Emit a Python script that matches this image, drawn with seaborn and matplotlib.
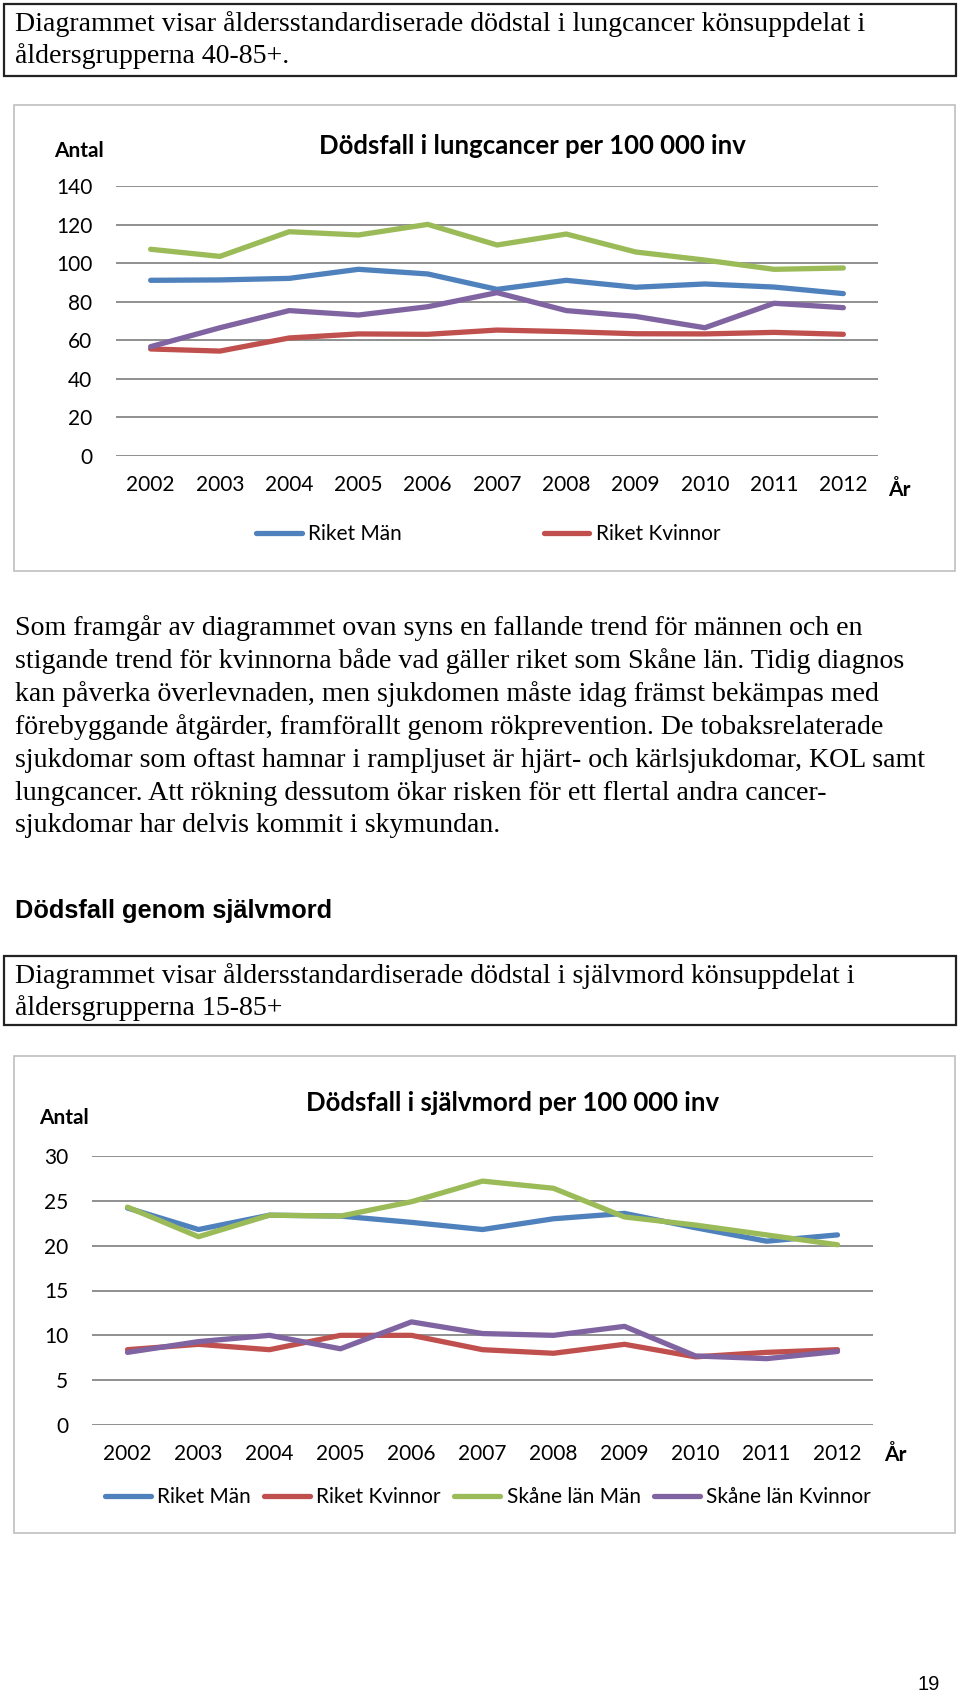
import matplotlib
matplotlib.use("Agg")
import matplotlib.pyplot as plt
import seaborn as sns
import pandas as pd
from matplotlib.patches import Rectangle

sns.set_theme(style="white")
plt.rcParams['font.family'] = ['Lato', 'DejaVu Sans']

W, H = 960, 1696

years = [2002, 2003, 2004, 2005, 2006, 2007, 2008, 2009, 2010, 2011, 2012]
series_names = ["Riket Män", "Riket Kvinnor", "Skåne län Män", "Skåne län Kvinnor"]
colors = ["#4F81BD", "#C0504D", "#9BBB59", "#8064A2"]

# Lung cancer deaths per 100 000
lung_riket_man = [91.1, 91.3, 92.1, 96.8, 94.4, 86.4, 91.1, 87.5, 89.2, 87.6, 84.2]
lung_riket_kvinnor = [55.5, 54.4, 61.2, 63.3, 63.1, 65.3, 64.5, 63.4, 63.3, 64.1, 63.1]
lung_skane_man = [107.2, 103.5, 116.3, 114.6, 120.1, 109.4, 115.1, 105.8, 101.6, 96.8, 97.5]
lung_skane_kvinnor = [56.7, 66.5, 75.4, 73.1, 77.4, 84.7, 75.4, 72.4, 66.5, 79.2, 76.9]

# Suicide deaths per 100 000
sui_riket_man = [24.2, 21.8, 23.4, 23.3, 22.6, 21.8, 23.0, 23.6, 22.0, 20.5, 21.2]
sui_riket_kvinnor = [8.4, 9.0, 8.4, 10.0, 10.0, 8.4, 8.0, 9.0, 7.6, 8.1, 8.4]
sui_skane_man = [24.3, 21.0, 23.4, 23.3, 24.9, 27.2, 26.4, 23.2, 22.3, 21.2, 20.1]
sui_skane_kvinnor = [8.1, 9.3, 10.0, 8.5, 11.5, 10.2, 10.0, 11.0, 7.7, 7.4, 8.2]

lung_yticks = [0, 20, 40, 60, 80, 100, 120, 140]
sui_yticks = [0, 5, 10, 15, 20, 25, 30]

title1 = "Dödsfall i lungcancer per 100 000 inv"
title2 = "Dödsfall i självmord per 100 000 inv"

box1_lines = ["Diagrammet visar åldersstandardiserade dödstal i lungcancer könsuppdelat i",
              "åldersgrupperna 40-85+."]
para_lines = [
    "Som framgår av diagrammet ovan syns en fallande trend för männen och en",
    "stigande trend för kvinnorna både vad gäller riket som Skåne län. Tidig diagnos",
    "kan påverka överlevnaden, men sjukdomen måste idag främst bekämpas med",
    "förebyggande åtgärder, framförallt genom rökprevention. De tobaksrelaterade",
    "sjukdomar som oftast hamnar i rampljuset är hjärt- och kärlsjukdomar, KOL samt",
    "lungcancer. Att rökning dessutom ökar risken för ett flertal andra cancer-",
    "sjukdomar har delvis kommit i skymundan.",
]
heading = "Dödsfall genom självmord"
box2_lines = ["Diagrammet visar åldersstandardiserade dödstal i självmord könsuppdelat i",
              "åldersgrupperna 15-85+"]


def fx(px):
    return px / W


def fy(py):
    return 1 - py / H


fig = plt.figure(figsize=(W / 100, H / 100), dpi=100)
fig.patch.set_facecolor("white")

serif = ["Liberation Serif", "DejaVu Serif"]
sans = ["Liberation Sans", "DejaVu Sans"]
BODY = 20.1
CH = 15  # chart text size

# Top text box
fig.patches.append(Rectangle((fx(4), fy(76)), fx(952), 72 / H, transform=fig.transFigure,
                             fill=False, edgecolor="#222222", linewidth=1.6))
for i, t in enumerate(box1_lines):
    fig.text(fx(15), fy(24 + 32 * i), t, family=serif, fontsize=BODY, va="center", ha="left", color="black")

# Chart frames
for (y0, y1) in [(105, 571), (1056, 1533)]:
    fig.patches.append(Rectangle((fx(14), fy(y1)), fx(941), (y1 - y0) / H, transform=fig.transFigure,
                                 fill=False, edgecolor="#BFBFBF", linewidth=1.2))


def make_chart(ax_rect, data, yticks, ymax, title, title_xy, antal_xy, ar_xy, legend_idx,
               legend_anchor, colspace):
    left, top, right, bottom = ax_rect
    ax = fig.add_axes([fx(left), fy(bottom), (right - left) / W, (bottom - top) / H])
    rows = []
    for name, vals in zip(series_names, data):
        for yr, v in zip(years, vals):
            rows.append({"År": yr, "Antal": v, "Serie": name})
    df = pd.DataFrame(rows)
    handles = []
    for name, col in zip(series_names, colors):
        sub = df[df["Serie"] == name]
        sns.lineplot(data=sub, x="År", y="Antal", ax=ax, color=col, linewidth=3.8,
                     label=name, legend=False, solid_capstyle="round")
        handles.append(ax.lines[-1])
    ax.set_xlim(2001.5, 2012.5)
    ax.set_ylim(0, ymax)
    ax.set_yticks(yticks)
    ax.set_xticks(years)
    ax.set_xticklabels([str(y) for y in years])
    ax.set_xlabel("")
    ax.set_ylabel("")
    for s in ax.spines.values():
        s.set_visible(False)
    ax.grid(axis="y", color="#878787", linewidth=1.3)
    ax.grid(axis="x", visible=False)
    ax.set_axisbelow(True)
    ax.tick_params(axis="y", length=0, pad=17, labelsize=CH, colors="black")
    ax.tick_params(axis="x", length=0, pad=14, labelsize=CH, colors="black")
    ax.set_facecolor("none")
    fig.text(fx(title_xy[0]), fy(title_xy[1]), title, fontsize=18.5, fontweight="bold",
             ha="center", va="center", color="black")
    fig.text(fx(antal_xy[0]), fy(antal_xy[1]), "Antal", fontsize=CH, fontweight="bold",
             ha="center", va="center", color="black")
    fig.text(fx(ar_xy[0]), fy(ar_xy[1]), "År", fontsize=CH, fontweight="bold",
             ha="center", va="center", color="black")
    leg = fig.legend(handles=[handles[i] for i in legend_idx],
                     labels=[series_names[i] for i in legend_idx],
                     loc="center left", bbox_to_anchor=(fx(legend_anchor[0]), fy(legend_anchor[1])),
                     ncol=len(legend_idx), frameon=False, fontsize=CH, handlelength=2.2,
                     handletextpad=0.3, columnspacing=colspace, borderpad=0, borderaxespad=0)
    for t in leg.get_texts():
        t.set_color("black")
    return ax


make_chart((116, 186, 878, 456),
           [lung_riket_man, lung_riket_kvinnor, lung_skane_man, lung_skane_kvinnor],
           lung_yticks, 140, title1, (532, 146), (79, 151), (899, 490), [0, 1], (256, 534), 6.8)

# Paragraph
for i, t in enumerate(para_lines):
    fig.text(fx(15), fy(628 + 33 * i), t, family=serif, fontsize=BODY, va="center", ha="left", color="black")

fig.text(fx(15), fy(911), heading, family=sans, fontsize=18.3, fontweight="bold", va="center", ha="left",
         color="black")

fig.patches.append(Rectangle((fx(4), fy(1025)), fx(952), 69 / H, transform=fig.transFigure,
                             fill=False, edgecolor="#222222", linewidth=1.6))
for i, t in enumerate(box2_lines):
    fig.text(fx(15), fy(976 + 32 * i), t, family=serif, fontsize=BODY, va="center", ha="left", color="black")

make_chart((92, 1156, 873, 1425),
           [sui_riket_man, sui_riket_kvinnor, sui_skane_man, sui_skane_kvinnor],
           sui_yticks, 30, title2, (513, 1103), (64, 1118), (895, 1455), [0, 1, 2, 3], (105, 1497), 0.65)

fig.text(fx(940), fy(1684), "19", family=sans, fontsize=14.5, ha="right", va="center", color="black")

fig.savefig("out.png", dpi=100, facecolor="white")
